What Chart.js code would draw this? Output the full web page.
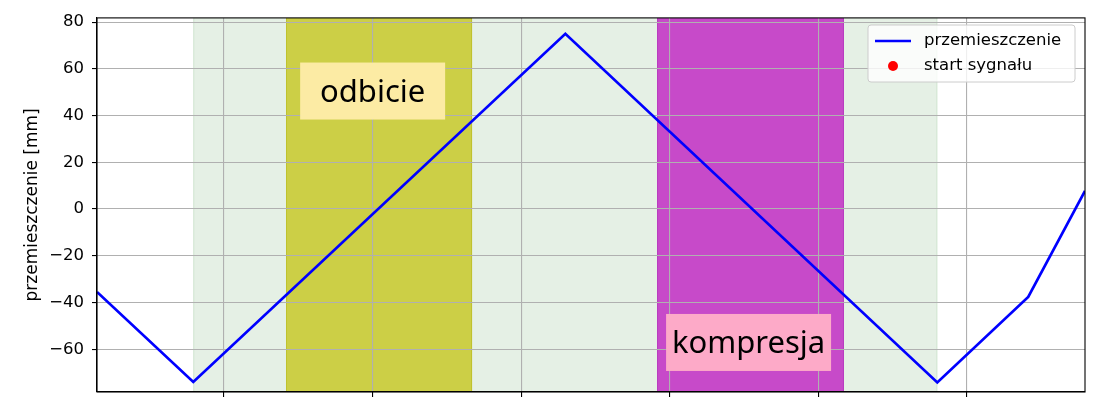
<!DOCTYPE html>
<html>
<head>
<meta charset="utf-8">
<title>przemieszczenie</title>
<style>
  body { margin: 0; background: #fff; }
  #wrap { width: 1110px; height: 412px; }
</style>
</head>
<body>
<div id="wrap"><canvas id="chart"></canvas></div>
<script src="https://cdn.jsdelivr.net/npm/chart.js"></script>
<script>
// displacement curve (x in tick units, y in mm)
const timeValues = [0.145, 0.793, 3.297, 5.800, 6.412, 6.794];
const displacement = [-35.5, -74.0, 75.0, -74.2, -37.6, 7.8];
// signal start markers (none inside the visible window)
const startTime = [];
const startValue = [];

const xTicks = [1, 2, 3, 4, 5, 6];
const yTicks = [-60, -40, -20, 0, 20, 40, 60, 80];

// shaded intervals
const spanStart = [0.793, 1.417, 3.914];
const spanEnd = [5.800, 2.669, 5.172];

// text boxes
const noteText = ['odbicie', 'kompresja'];
const noteX = [2.0, 4.53];
const noteY = [50.5, -57.1];

const spanFill = ['#e5f0e5', '#cccf46', '#c74ac9'];
const spanEdge = ['#d3e6d3', '#bfc22e', '#b93cc0'];
const noteFill = ['#fcebA4', '#fdaac8'];
const noteBoxW = [145, 165];
const tickFont = { family: 'DejaVu Sans', size: 16.5 };

const spansPlugin = {
  id: 'spans',
  beforeDraw(chart) {
    const { ctx, chartArea: a, scales: { x } } = chart;
    ctx.save();
    ctx.beginPath();
    ctx.rect(a.left, a.top, a.right - a.left, a.bottom - a.top);
    ctx.clip();
    spanStart.forEach((s, i) => {
      const x0 = x.getPixelForValue(s), x1 = x.getPixelForValue(spanEnd[i]);
      ctx.fillStyle = spanFill[i];
      ctx.fillRect(x0, a.top, x1 - x0, a.bottom - a.top);
      ctx.strokeStyle = spanEdge[i];
      ctx.lineWidth = 1;
      ctx.strokeRect(x0 + 0.5, a.top - 1, x1 - x0 - 1, a.bottom - a.top + 2);
    });
    ctx.restore();
  }
};

const overlayPlugin = {
  id: 'overlay',
  afterDraw(chart) {
    const { ctx, chartArea: a, scales: { x, y } } = chart;
    ctx.save();
    // spines
    ctx.strokeStyle = '#000';
    ctx.lineWidth = 1.1;
    ctx.strokeRect(a.left, a.top, a.right - a.left, a.bottom - a.top);

    // text boxes
    ctx.font = '31px "Noto Sans"';
    ctx.textAlign = 'center';
    ctx.textBaseline = 'middle';
    noteText.forEach((t, i) => {
      const cx = x.getPixelForValue(noteX[i]), cy = y.getPixelForValue(noteY[i]);
      const w = noteBoxW[i], h = 57;
      ctx.fillStyle = noteFill[i];
      ctx.fillRect(cx - w / 2, cy - h / 2, w, h);
      ctx.fillStyle = '#000';
      ctx.fillText(t, cx, cy + 2);
    });

    // legend
    const ds = chart.data.datasets;
    const lx = 868, ly = 25, lw = 207, lh = 57;
    ctx.beginPath();
    ctx.roundRect(lx, ly, lw, lh, 3);
    ctx.fillStyle = 'rgba(255,255,255,0.8)';
    ctx.fill();
    ctx.strokeStyle = '#cccccc';
    ctx.lineWidth = 1;
    ctx.stroke();
    ctx.font = '16.5px "DejaVu Sans"';
    ctx.textAlign = 'left';
    ctx.fillStyle = '#000';
    // line entry
    ctx.beginPath();
    ctx.moveTo(875, 41);
    ctx.lineTo(911, 41);
    ctx.strokeStyle = ds[0].borderColor;
    ctx.lineWidth = 2.5;
    ctx.stroke();
    ctx.fillText(ds[0].label, 924, 41);
    // marker entry
    ctx.beginPath();
    ctx.arc(893, 66, 5, 0, Math.PI * 2);
    ctx.fillStyle = ds[1].pointBackgroundColor;
    ctx.fill();
    ctx.fillStyle = '#000';
    ctx.fillText(ds[1].label, 924, 66);
    ctx.restore();
  }
};

new Chart(document.getElementById('chart'), {
  type: 'line',
  data: {
    datasets: [
      {
        label: 'przemieszczenie',
        data: timeValues.map((t, i) => ({ x: t, y: displacement[i] })),
        borderColor: '#0000ff',
        borderWidth: 2.7,
        pointRadius: 0,
        tension: 0,
        fill: false
      },
      {
        label: 'start sygnału',
        type: 'scatter',
        data: startTime.map((t, i) => ({ x: t, y: startValue[i] })),
        pointBackgroundColor: '#ff0000',
        pointBorderColor: '#ff0000',
        pointRadius: 5
      }
    ]
  },
  options: {
    responsive: true,
    maintainAspectRatio: false,
    animation: false,
    layout: { padding: { top: 16, right: 25, left: 0, bottom: 0 } },
    plugins: { legend: { display: false }, tooltip: { enabled: false } },
    scales: {
      x: {
        type: 'linear',
        min: 0.145,
        max: 6.794,
        afterBuildTicks: s => { s.ticks = xTicks.map(v => ({ value: v })); },
        afterFit: s => { s.height = 20; },
        ticks: { callback: () => '', font: tickFont },
        grid: { color: '#b0b0b0', lineWidth: 1.1, tickLength: 5, tickColor: '#000' },
        border: { color: '#000', width: 1.1 }
      },
      y: {
        min: -78.3,
        max: 81.8,
        afterBuildTicks: s => { s.ticks = yTicks.map(v => ({ value: v })); },
        afterFit: s => { s.width = 97; },
        ticks: {
          font: tickFont,
          color: '#000',
          padding: 8,
          callback: v => String(v).replace('-', '\u2212')
        },
        grid: { color: '#b0b0b0', lineWidth: 1.1, tickLength: 5, tickColor: '#000' },
        border: { color: '#000', width: 1.1 },
        title: {
          display: true,
          text: 'przemieszczenie [mm]',
          color: '#000',
          font: { family: 'DejaVu Sans', size: 17 },
          padding: { top: 22, bottom: 0 }
        }
      }
    }
  },
  plugins: [spansPlugin, overlayPlugin]
});
</script>
</body>
</html>
